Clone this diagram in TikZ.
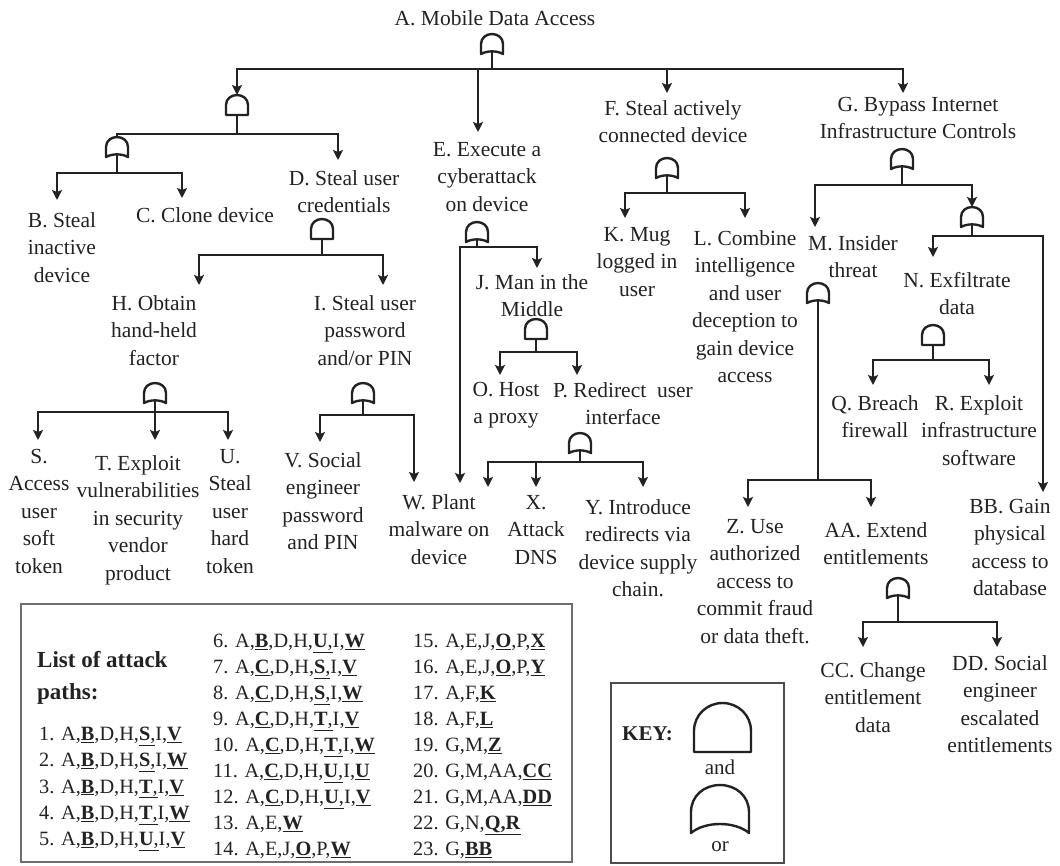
\documentclass[tikz,border=0pt]{standalone}
\usepackage{fontspec}
\setmainfont{Liberation Serif}
\usetikzlibrary{arrows.meta,calc}
\definecolor{ink}{HTML}{222222}
\definecolor{frame}{HTML}{6E6E6E}
\newcommand\pk[1]{\underline{\textbf{#1}}}
\newcommand\pkc[1]{\underline{\textbf{#1},}}
\tikzset{
  lbl/.style={align=center,anchor=north,inner sep=0pt,text=ink,
    font=\fontsize{21.5}{27.5}\selectfont},
  leg/.style={anchor=base west,inner sep=0pt,text=ink,
    font=\fontsize{20.3}{26}\selectfont},
  wire/.style={line width=2.6pt,draw=ink},
  arr/.style={wire,-{Stealth[length=10pt,width=10pt,inset=2pt]}},
  gateline/.style={line width=2.4pt,draw=ink,line join=round},
  andgate/.pic={
    \draw[gateline] (-11,20) -- (-11,10) .. controls (-11,4) and (-6,0) .. (0,0)
      .. controls (6,0) and (11,4) .. (11,10) -- (11,20) -- cycle;
    \coordinate (-in) at (0,0);
    \coordinate (-out) at (0,20);
  },
  orgate/.pic={
    \draw[gateline] (-11,20) -- (-11,10) .. controls (-11,4) and (-6,0) .. (0,0)
      .. controls (6,0) and (11,4) .. (11,10) -- (11,20)
      .. controls (5,16.5) and (-5,16.5) .. (-11,20) -- cycle;
    \coordinate (-in) at (0,0);
    \coordinate (-out) at (0,17.4);
  },
}
\begin{document}
\begin{tikzpicture}[x=1pt,y=-1pt]
\useasboundingbox (0,0) rectangle (1060,865);

% ---------- event labels ----------
\node[lbl] (nA) at (495,10) {A. Mobile Data Access};
\node[lbl] (nB) at (62,212) {B. Steal\\inactive\\device};
\node[lbl] (nC) at (205,207) {C. Clone device};
\node[lbl] (nD) at (344,170) {D. Steal user\\credentials};
\node[lbl] (nE) at (487,142) {E. Execute a\\cyberattack\\on device};
\node[lbl] (nF) at (673,100) {F. Steal actively\\connected device};
\node[lbl] (nG) at (918,97) {G. Bypass Internet\\Infrastructure Controls};
\node[lbl] (nH) at (154,295) {H. Obtain\\hand-held\\factor};
\node[lbl] (nI) at (365,295) {I. Steal user\\password\\and/or PIN};
\node[lbl] (nJ) at (532,274) {J. Man in the\\Middle};
\node[lbl] (nK) at (637,227) {K. Mug\\logged in\\user};
\node[lbl] (nL) at (745,230) {L. Combine\\intelligence\\and user\\deception to\\gain device\\access};
\node[lbl] (nM) at (853,235) {M. Insider\\threat};
\node[lbl] (nN) at (957,272) {N. Exfiltrate\\data};
\node[lbl] (nO) at (506,382) {O. Host\\a proxy};
\node[lbl] (nP) at (623,382) {P. Redirect\ \ user\\interface};
\node[lbl] (nQ) at (875,395) {Q. Breach\\firewall};
\node[lbl] (nR) at (979,395) {R. Exploit\\infrastructure\\software};
\node[lbl] (nS) at (39,449) {S.\\Access\\user\\soft\\token};
\node[lbl] (nT) at (138,455) {T. Exploit\\vulnerabilities\\in security\\vendor\\product};
\node[lbl] (nU) at (230,449) {U.\\Steal\\user\\hard\\token};
\node[lbl] (nV) at (323,452) {V. Social\\engineer\\password\\and PIN};
\node[lbl] (nW) at (439,494) {W. Plant\\malware on\\device};
\node[lbl] (nX) at (536,495) {X.\\Attack\\DNS};
\node[lbl] (nY) at (638,499) {Y. Introduce\\redirects via\\device supply\\chain.};
\node[lbl] (nZ) at (755,519) {Z. Use\\authorized\\access to\\commit fraud\\or data theft.};
\node[lbl] (nAA) at (876,522) {AA. Extend\\entitlements};
\node[lbl] (nBB) at (1010,499) {BB. Gain\\physical\\access to\\database};
\node[lbl] (nCC) at (873,662) {CC. Change\\entitlement\\data};
\node[lbl] (nDD) at (1000,655) {DD. Social\\engineer\\escalated\\entitlements};

% ---------- gates ----------
\pic (gA)  at (492,34)  {orgate};
\pic (gL)  at (237,95)  {andgate};
\pic (gBC) at (117,137) {orgate};
\pic (gD)  at (322,219) {andgate};
\pic (gH)  at (155,383) {orgate};
\pic (gI)  at (363,383) {orgate};
\pic (gE)  at (477,222) {orgate};
\pic (gJ)  at (536,319) {andgate};
\pic (gP)  at (580,433) {orgate};
\pic (gF)  at (667,158) {orgate};
\pic (gG)  at (902,149) {orgate};
\pic (gN2) at (972,207) {orgate};
\pic (gM)  at (818,283) {orgate};
\pic (gN)  at (933,325) {andgate};
\pic (gAA) at (898,578) {orgate};

% ---------- junctions on the bars ----------
\coordinate (jA)  at (492,69);
\coordinate (jL)  at (237,134);
\coordinate (jBC) at (117,173);
\coordinate (jD)  at (322,255);
\coordinate (jH)  at (155,412);
\coordinate (jI)  at (363,415);
\coordinate (jE)  at (477,247);
\coordinate (jJ)  at (536,352);
\coordinate (jP)  at (580,462);
\coordinate (jF)  at (667,193);
\coordinate (jG)  at (902,185);
\coordinate (jN2) at (972,236);
\coordinate (jM)  at (818,480);
\coordinate (jN)  at (933,360);
\coordinate (jAA) at (898,622);

% ---------- arrow tips ----------
\coordinate (tB) at (57,200);   \coordinate (tC) at (182,198);
\coordinate (tD) at (338,160);  \coordinate (tE) at (478,132);
\coordinate (tF) at (667,93);   \coordinate (tG) at (903,93);
\coordinate (tH) at (199,285);  \coordinate (tI) at (383,285);
\coordinate (tS) at (38,440);   \coordinate (tT) at (155,440);
\coordinate (tU) at (228,440);  \coordinate (tV) at (320,442);
\coordinate (tW1) at (414,482); \coordinate (tW2) at (460,483);
\coordinate (tJ) at (537,268);  \coordinate (tO) at (500,375);
\coordinate (tP) at (577,375);  \coordinate (tX) at (488,487);
\coordinate (tXb) at (536,487); \coordinate (tY) at (643,487);
\coordinate (tK) at (625,218);  \coordinate (tL) at (745,218);
\coordinate (tM) at (815,227);  \coordinate (tN) at (933,257);
\coordinate (tBB) at (1043,492);\coordinate (tZ) at (748,507);
\coordinate (tAA) at (871,507); \coordinate (tQ) at (873,385);
\coordinate (tR) at (989,385);  \coordinate (tCC) at (863,647);
\coordinate (tDD) at (997,647);

% ---------- connectors ----------
% A
\draw[wire] (gA-out) -- (jA);
\draw[arr] (jA) -| (gL-in);
\draw[arr] (jA) -| (tE);
\draw[arr] (jA) -| (tF);
\draw[arr] (jA) -| (tG);
% left AND
\draw[wire] (gL-out) -- (jL);
\draw[wire] (jL) -| (gBC-in);
\draw[arr] (jL) -| (tD);
% B / C
\draw[wire] (gBC-out) -- (jBC);
\draw[arr] (jBC) -| (tB);
\draw[arr] (jBC) -| (tC);
% D
\draw[wire] (gD-out) -- (jD);
\draw[arr] (jD) -| (tH);
\draw[arr] (jD) -| (tI);
% H
\draw[wire] (gH-out) -- (jH);
\draw[arr] (jH) -| (tS);
\draw[arr] (jH) -- (tT);
\draw[arr] (jH) -| (tU);
% I
\draw[wire] (gI-out) -- (jI);
\draw[arr] (jI) -| (tV);
\draw[arr] (jI) -| (tW1);
% E
\draw[wire] (gE-out) -- (jE);
\draw[arr] (jE) -| (tJ);
\draw[arr] (jE) -| (tW2);
% J
\draw[wire] (gJ-out) -- (jJ);
\draw[arr] (jJ) -| (tO);
\draw[arr] (jJ) -| (tP);
% P
\draw[wire] (gP-out) -- (jP);
\draw[arr] (jP) -| (tX);
\draw[arr] (jP) -| (tXb);
\draw[arr] (jP) -| (tY);
% F
\draw[wire] (gF-out) -- (jF);
\draw[arr] (jF) -| (tK);
\draw[arr] (jF) -| (tL);
% G
\draw[wire] (gG-out) -- (jG);
\draw[arr] (jG) -| (tM);
\draw[arr] (jG) -| (gN2-in);
% N / BB
\draw[wire] (gN2-out) -- (jN2);
\draw[arr] (jN2) -| (tN);
\draw[arr] (jN2) -| (tBB);
% M
\draw[wire] (gM-out) -- (jM);
\draw[arr] (jM) -| (tZ);
\draw[arr] (jM) -| (tAA);
% N
\draw[wire] (gN-out) -- (jN);
\draw[arr] (jN) -| (tQ);
\draw[arr] (jN) -| (tR);
% AA
\draw[wire] (gAA-out) -- (jAA);
\draw[arr] (jAA) -| (tCC);
\draw[arr] (jAA) -| (tDD);

% ---------- list of attack paths ----------
\draw[frame,line width=1.5pt] (21,604) rectangle (572,862);
\node[anchor=base west,inner sep=0pt,text=ink,font=\fontsize{23}{32}\selectfont\bfseries]
  (lt1) at (37,667.5) {List of attack};
\node[anchor=base west,inner sep=0pt,text=ink,font=\fontsize{23}{32}\selectfont\bfseries]
  (lt2) at (37,699.5) {paths:};
\foreach \t [count=\i] in {
  {A,\pk{B},D,H,\pkc{S}I,\pk{V}},
  {A,\pk{B},D,H,\pkc{S}I,\pk{W}},
  {A,\pk{B},D,H,\pkc{T}I,\pk{V}},
  {A,\pk{B},D,H,\pkc{T}I,\pk{W}},
  {A,\pk{B},D,H,\pkc{U}I,\pk{V}}}
  \node[leg] (p\i) at (39,{740.5+26.25*(\i-1)}) {\i. \t};
\foreach \t [count=\i from 6] in {
  {A,\pk{B},D,H,\pkc{U}I,\pk{W}},
  {A,\pk{C},D,H,\pkc{S}I,\pk{V}},
  {A,\pk{C},D,H,\pkc{S}I,\pk{W}},
  {A,\pk{C},D,H,\pkc{T}I,\pk{V}},
  {A,\pk{C},D,H,\pkc{T}I,\pk{W}},
  {A,\pk{C},D,H,\pkc{U}I,\pk{U}},
  {A,\pk{C},D,H,\pkc{U}I,\pk{V}},
  {A,E,\pk{W}},
  {A,E,J,\pk{O},P,\pk{W}}}
  \node[leg] (p\i) at (213,{647.5+26*(\i-6)}) {\i. \t};
\foreach \t [count=\i from 15] in {
  {A,E,J,\pk{O},P,\pk{X}},
  {A,E,J,\pk{O},P,\pk{Y}},
  {A,F,\pk{K}},
  {A,F,\pk{L}},
  {G,M,\pk{Z}},
  {G,M,AA,\pk{CC}},
  {G,M,AA,\pk{DD}},
  {G,N,\pk{Q,R}},
  {G,\pk{BB}}}
  \node[leg] (p\i) at (413,{647.5+26*(\i-15)}) {\i. \t};

% ---------- key ----------
\draw[frame!70!black,line width=1.5pt] (611,683) rectangle (784,863);
\node[anchor=base west,inner sep=0pt,text=ink,font=\fontsize{21}{26}\selectfont\bfseries]
  (key) at (622,740) {KEY:};
\draw[gateline] (694,752) -- (694,731) .. controls (694,715) and (707,703) .. (722.5,703)
  .. controls (738,703) and (751,715) .. (751,731) -- (751,752) -- cycle;
\node[anchor=base,inner sep=0pt,text=ink,font=\fontsize{21}{26}\selectfont]
  (kand) at (720,774) {and};
\draw[gateline] (691,833) -- (691,812) .. controls (691,796) and (704,785) .. (720,785)
  .. controls (736,785) and (749,796) .. (749,812) -- (749,833)
  .. controls (735,821) and (705,821) .. (691,833) -- cycle;
\node[anchor=base,inner sep=0pt,text=ink,font=\fontsize{21}{26}\selectfont]
  (kor) at (720,851) {or};
\end{tikzpicture}
\end{document}
